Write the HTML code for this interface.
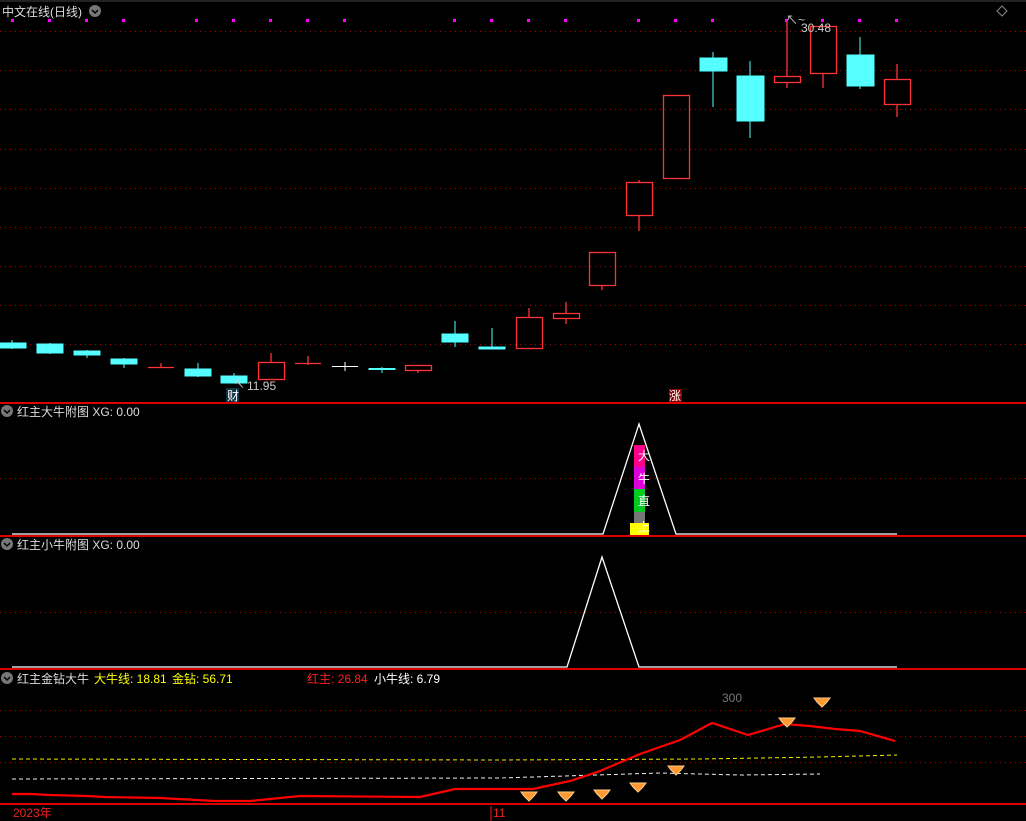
<!DOCTYPE html>
<html><head><meta charset="utf-8"><style>
html,body{margin:0;padding:0;background:#000;width:1026px;height:821px;overflow:hidden}
svg{display:block}
text{font-family:"Liberation Sans","Noto Sans CJK SC",sans-serif;font-size:12px}
</style></head><body>
<svg width="1026" height="821" xmlns="http://www.w3.org/2000/svg">
<rect width="1026" height="821" fill="#000"/>
<line x1="0" y1="1" x2="1026" y2="1" stroke="#444" stroke-width="1"/>
<g stroke="#b00000" stroke-width="1" stroke-dasharray="1,4">
<line x1="0" y1="31.5" x2="1026" y2="31.5"/><line x1="0" y1="70.5" x2="1026" y2="70.5"/>
<line x1="0" y1="109.5" x2="1026" y2="109.5"/><line x1="0" y1="149.5" x2="1026" y2="149.5"/>
<line x1="0" y1="188.5" x2="1026" y2="188.5"/><line x1="0" y1="227.5" x2="1026" y2="227.5"/>
<line x1="0" y1="266.5" x2="1026" y2="266.5"/><line x1="0" y1="305.5" x2="1026" y2="305.5"/>
<line x1="0" y1="344.5" x2="1026" y2="344.5"/>
<line x1="0" y1="478.5" x2="1026" y2="478.5"/>
<line x1="0" y1="612.5" x2="1026" y2="612.5"/>
<line x1="0" y1="710.5" x2="1026" y2="710.5"/><line x1="0" y1="736.5" x2="1026" y2="736.5"/>
<line x1="0" y1="762.5" x2="1026" y2="762.5"/>
</g>
<g stroke="#d00" stroke-width="2">
<line x1="0" y1="403" x2="1026" y2="403"/><line x1="0" y1="536" x2="1026" y2="536"/>
<line x1="0" y1="669" x2="1026" y2="669"/><line x1="0" y1="804" x2="1026" y2="804"/>
</g>
<g fill="#f0f">
<rect x="11" y="19" width="3" height="3"/><rect x="48" y="19" width="3" height="3"/><rect x="85" y="19" width="3" height="3"/><rect x="122" y="19" width="3" height="3"/><rect x="195" y="19" width="3" height="3"/><rect x="232" y="19" width="3" height="3"/><rect x="269" y="19" width="3" height="3"/><rect x="306" y="19" width="3" height="3"/><rect x="343" y="19" width="3" height="3"/><rect x="453" y="19" width="3" height="3"/><rect x="490" y="19" width="3" height="3"/><rect x="527" y="19" width="3" height="3"/><rect x="564" y="19" width="3" height="3"/><rect x="637" y="19" width="3" height="3"/><rect x="674" y="19" width="3" height="3"/><rect x="711" y="19" width="3" height="3"/><rect x="785" y="19" width="3" height="3"/><rect x="821" y="19" width="3" height="3"/><rect x="858" y="19" width="3" height="3"/><rect x="895" y="19" width="3" height="3"/>
</g>
<text x="2" y="16" fill="#ddd" font-size="13">中文在线(日线)</text>
<circle cx="95" cy="11" r="6" fill="#777"/><path d="M92 10l3 3 3-3" stroke="#000" fill="none" stroke-width="1.5"/>
<path d="M1002 6l5 5-5 5-5-5z" stroke="#888" fill="none"/>
<!-- candles -->
<g stroke="#5ff" fill="#5ff">
<line x1="12" y1="340" x2="12" y2="349"/><rect x="0" y="343" width="26" height="5"/>
<line x1="50" y1="343" x2="50" y2="354"/><rect x="37" y="344" width="26" height="9"/>
<line x1="87" y1="350" x2="87" y2="358"/><rect x="74" y="351" width="26" height="4"/>
<line x1="124" y1="358" x2="124" y2="368"/><rect x="111" y="359" width="26" height="5"/>
<line x1="198" y1="363" x2="198" y2="377"/><rect x="185" y="369" width="26" height="7"/>
<line x1="234" y1="373" x2="234" y2="383"/><rect x="221" y="376" width="26" height="7"/>
<line x1="382" y1="367" x2="382" y2="373"/><rect x="369" y="368.5" width="26" height="1"/>
<line x1="455" y1="321" x2="455" y2="347"/><rect x="442" y="334" width="26" height="8"/>
<line x1="492" y1="328" x2="492" y2="349"/><rect x="479" y="347" width="26" height="2"/>
<line x1="713" y1="52" x2="713" y2="107"/><rect x="700" y="58" width="27" height="13"/>
<line x1="750" y1="61" x2="750" y2="138"/><rect x="737" y="76" width="27" height="45"/>
<line x1="860" y1="37" x2="860" y2="89"/><rect x="847" y="55" width="27" height="31"/>
</g>
<g stroke="#f33" fill="none" stroke-width="1.3">
<line x1="161" y1="363" x2="161" y2="368"/><line x1="148" y1="367.5" x2="174" y2="367.5"/>
<line x1="271" y1="353" x2="271" y2="362"/><rect x="258.5" y="362.5" width="26" height="17"/>
<line x1="308" y1="356" x2="308" y2="365"/><line x1="295" y1="363.5" x2="321" y2="363.5"/>
<rect x="405.5" y="365.5" width="26" height="5"/><line x1="418" y1="371" x2="418" y2="373"/>
<line x1="529" y1="308" x2="529" y2="317"/><rect x="516.5" y="317.5" width="26" height="31"/>
<line x1="566" y1="302" x2="566" y2="324"/><rect x="553.5" y="313.5" width="26" height="5" fill="#000"/>
<line x1="602" y1="285" x2="602" y2="290"/><rect x="589.5" y="252.5" width="26" height="33"/>
<line x1="639" y1="180" x2="639" y2="231"/><rect x="626.5" y="182.5" width="26" height="33" fill="#000"/>
<rect x="663.5" y="95.5" width="26" height="83"/>
<line x1="787" y1="22" x2="787" y2="88"/><rect x="774.5" y="76.5" width="26" height="6" fill="#000"/>
<line x1="823" y1="73" x2="823" y2="88"/><rect x="810.5" y="26.5" width="26" height="47" fill="#000"/>
<line x1="897" y1="64" x2="897" y2="117"/><rect x="884.5" y="79.5" width="26" height="25" fill="#000"/>
</g>
<g stroke="#fff"><line x1="345" y1="362" x2="345" y2="371"/><line x1="332" y1="366.5" x2="358" y2="366.5"/></g>
<text x="801" y="32" fill="#ccc">30.48</text><text x="786" y="24" fill="#ccc" font-size="10">↖~</text>
<text x="247" y="390" fill="#ccc">11.95</text><text x="233" y="388" fill="#ccc" font-size="10">↖</text>
<rect x="226" y="388" width="13" height="14" fill="#134"/><text x="227" y="400" fill="#fff">财</text>
<rect x="669" y="389" width="13" height="13" fill="#800"/><text x="669" y="400" fill="#fff" font-size="11">涨</text>
<!-- panel 2 -->
<circle cx="7" cy="411" r="6" fill="#777"/><path d="M4 410l3 3 3-3" stroke="#000" fill="none" stroke-width="1.5"/>
<text x="17" y="416" fill="#ddd">红主大牛附图 XG: 0.00</text>
<rect x="634" y="445" width="11" height="22" fill="#f08"/>
<rect x="634" y="467" width="11" height="22" fill="#d0d"/>
<rect x="634" y="489" width="11" height="23" fill="#0c2"/>
<rect x="634" y="512" width="11" height="11" fill="#777"/>
<rect x="630" y="523" width="19" height="12" fill="#ff0"/>
<g fill="#fff" font-size="13"><text x="638" y="460">大</text><text x="638" y="483">牛</text><text x="638" y="505">直</text><text x="638" y="531">上</text></g>
<polyline points="12,534 603,534 639,424 676,534 897,534" fill="none" stroke="#fff" stroke-width="1.3"/>
<!-- panel 3 -->
<circle cx="7" cy="544" r="6" fill="#777"/><path d="M4 543l3 3 3-3" stroke="#000" fill="none" stroke-width="1.5"/>
<text x="17" y="549" fill="#ddd">红主小牛附图 XG: 0.00</text>
<polyline points="12,667 567,667 602,557 639,667 897,667" fill="none" stroke="#fff" stroke-width="1.3"/>
<!-- panel 4 -->
<circle cx="7" cy="678" r="6" fill="#777"/><path d="M4 677l3 3 3-3" stroke="#000" fill="none" stroke-width="1.5"/>
<text x="17" y="683" fill="#ddd">红主金钻大牛</text>
<text x="94" y="683" fill="#ff0">大牛线: 18.81</text>
<text x="172" y="683" fill="#ff0">金钻: 56.71</text>
<text x="307" y="683" fill="#f22">红主: 26.84</text>
<text x="374" y="683" fill="#fff">小牛线: 6.79</text>
<text x="722" y="702" fill="#777">300</text>
<polyline points="12,759 500,760 700,759 820,757 897,755" fill="none" stroke="#ee0" stroke-dasharray="4,3"/>
<polyline points="12,779 500,778 660,773 740,775 820,774" fill="none" stroke="#eee" stroke-dasharray="4,3"/>
<polyline points="12,794 30,794 50,795 87,796 105,797 160,798 215,801 250,801 270,799 300,796 420,797 455,789 500,789 533,789 570,781 600,771 640,754 680,740 712,723 748,735 785,724 810,726 835,729 860,731 895,741" fill="none" stroke="#f00" stroke-width="2.2"/>
<g fill="#f93" stroke="#fc8" stroke-width="1">
<path d="M521 792h16l-3 4-5 5-5-5z"/><path d="M558 792h16l-3 4-5 5-5-5z"/><path d="M594 790h16l-3 4-5 5-5-5z"/><path d="M630 783h16l-3 4-5 5-5-5z"/><path d="M668 766h16l-3 4-5 5-5-5z"/><path d="M779 718h16l-3 4-5 5-5-5z"/><path d="M814 698h16l-3 4-5 5-5-5z"/>
</g>
<text x="13" y="817" fill="#e22">2023年</text>
<line x1="491" y1="806" x2="491" y2="821" stroke="#e22"/>
<text x="493" y="817" fill="#e22">11</text>
</svg>
</body></html>
